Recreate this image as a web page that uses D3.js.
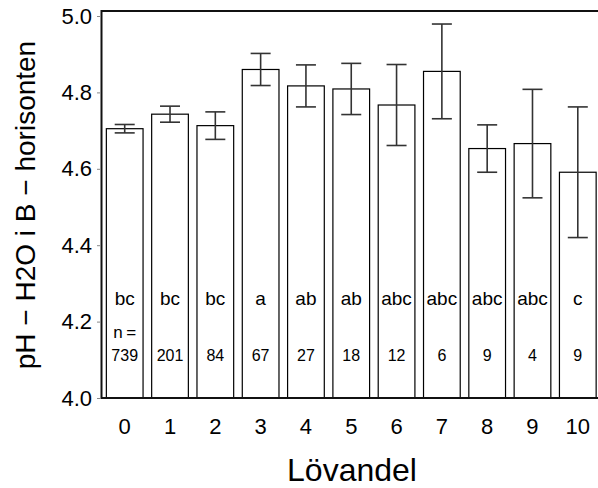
<!DOCTYPE html>
<html>
<head>
<meta charset="utf-8">
<script src="https://cdn.jsdelivr.net/npm/d3@7"></script>
<style>
  html, body { margin: 0; padding: 0; background: #fff; }
  svg { display: block; font-family: "Liberation Sans", Arial, Helvetica, sans-serif; }
</style>
</head>
<body>
<svg id="chart" width="598" height="488"></svg>
<script>
// Lövandel classes, mean pH-H2O in the B horizon, error half-widths, group letters and sample sizes
const categories = ["0", "1", "2", "3", "4", "5", "6", "7", "8", "9", "10"];
const meanPH = [4.705, 4.743, 4.713, 4.860, 4.817, 4.809, 4.767, 4.855, 4.653, 4.666, 4.591];
const errPH  = [0.011, 0.021, 0.036, 0.042, 0.055, 0.067, 0.106, 0.124, 0.062, 0.142, 0.171];
const groups = ["bc", "bc", "bc", "a", "ab", "ab", "abc", "abc", "abc", "abc", "c"];
const counts = ["739", "201", "84", "67", "27", "18", "12", "6", "9", "4", "9"];
const yTicks = [4.0, 4.2, 4.4, 4.6, 4.8, 5.0];

const svg = d3.select("#chart");
const frameLeft = 101.5, frameTop = 11, frameBottom = 398;

const x = d3.scaleBand()
  .domain(categories)
  .range([102.05, 600.45])
  .paddingInner(0.19)
  .paddingOuter(0.095);

const y = d3.scaleLinear().domain([4, 5]).range([398, 16]);

const data = categories.map((c, i) => ({
  cat: c, mean: meanPH[i], err: errPH[i], grp: groups[i], n: counts[i]
}));

// bars
svg.append("g").selectAll("rect").data(data).join("rect")
  .attr("x", d => x(d.cat))
  .attr("y", d => y(d.mean))
  .attr("width", x.bandwidth())
  .attr("height", d => y(4) - y(d.mean))
  .attr("fill", "#fff")
  .attr("stroke", "#000")
  .attr("stroke-width", 1.2);

// error bars
const eb = svg.append("g").attr("stroke", "#333").attr("stroke-width", 1.6).attr("fill", "none");
data.forEach(d => {
  const cx = x(d.cat) + x.bandwidth() / 2;
  const y1 = y(d.mean + d.err), y0 = y(d.mean - d.err);
  eb.append("line").attr("x1", cx).attr("x2", cx).attr("y1", y1).attr("y2", y0);
  eb.append("line").attr("x1", cx - 10).attr("x2", cx + 10).attr("y1", y1).attr("y2", y1);
  eb.append("line").attr("x1", cx - 10).attr("x2", cx + 10).attr("y1", y0).attr("y2", y0);
});

// group letters and sample sizes inside the bars
const lbl = svg.append("g").attr("text-anchor", "middle").attr("fill", "#000");
data.forEach(d => {
  const cx = x(d.cat) + x.bandwidth() / 2;
  lbl.append("text").attr("x", cx).attr("y", 305).attr("font-size", 19).text(d.grp);
  lbl.append("text").attr("x", cx).attr("y", 361).attr("font-size", 16).text(d.n);
});
lbl.append("text")
  .attr("x", x("0") + x.bandwidth() / 2).attr("y", 337.5)
  .attr("font-size", 17).text("n\u2009=");

// frame (open on the right)
svg.append("path")
  .attr("d", `M700,${frameTop}H${frameLeft}V${frameBottom}H700`)
  .attr("fill", "none").attr("stroke", "#111").attr("stroke-width", 2);

// y axis ticks and labels
const yAxis = d3.axisLeft(y).tickValues(yTicks).tickFormat(d3.format(".1f")).tickSize(4).tickPadding(5);
const ya = svg.append("g").attr("transform", `translate(${frameLeft - 0.5},0)`).call(yAxis);
ya.select(".domain").remove();
ya.selectAll(".tick line").attr("stroke", "#888");
ya.selectAll(".tick text").attr("font-size", 22).attr("fill", "#000")
  .attr("font-family", "Liberation Sans, Arial, sans-serif");

// x axis labels
const xAxis = d3.axisBottom(x).tickSize(0).tickPadding(20);
const xa = svg.append("g").attr("transform", `translate(0,${frameBottom})`).call(xAxis);
xa.select(".domain").remove();
xa.selectAll(".tick text").attr("font-size", 22).attr("fill", "#000")
  .attr("font-family", "Liberation Sans, Arial, sans-serif");

// axis titles
svg.append("text")
  .attr("x", 352).attr("y", 481)
  .attr("text-anchor", "middle").attr("font-size", 32).attr("fill", "#000")
  .text("Lövandel");

svg.append("text")
  .attr("transform", "translate(35,205) rotate(-90)")
  .attr("text-anchor", "middle").attr("font-size", 28).attr("fill", "#000")
  .text("pH \u2212 H2O  i  B \u2212 horisonten");
</script>
</body>
</html>
